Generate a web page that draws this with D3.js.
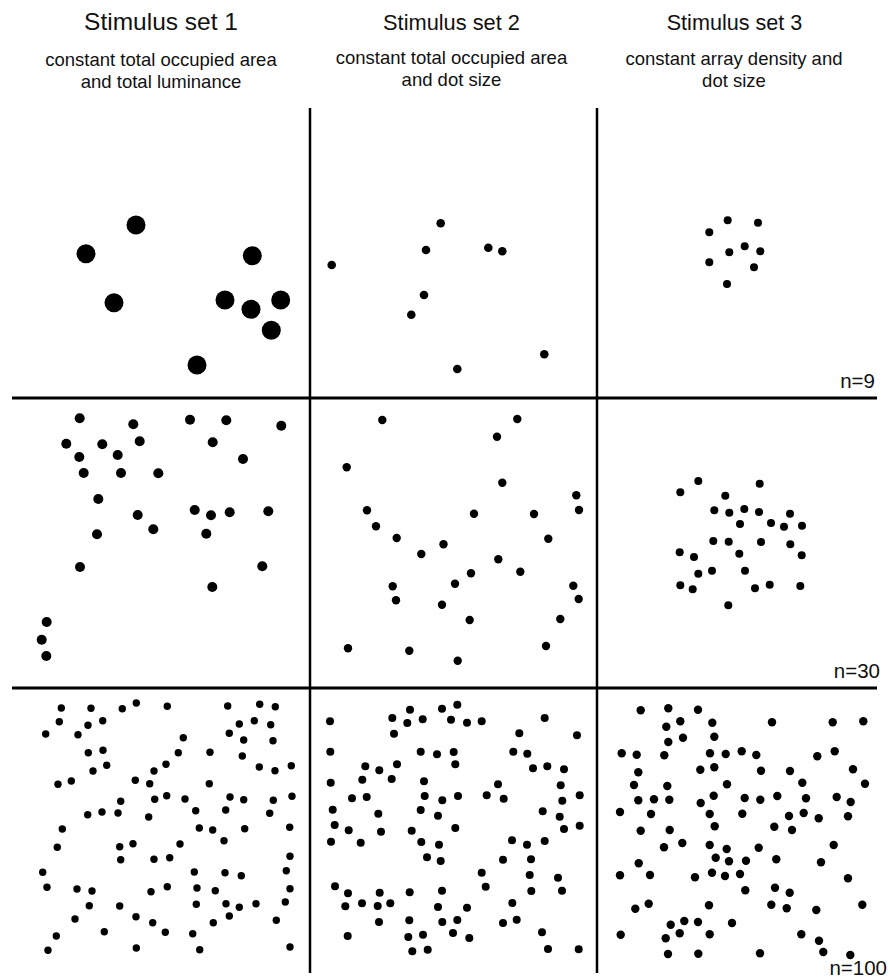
<!DOCTYPE html>
<html>
<head>
<meta charset="utf-8">
<script src="https://cdn.jsdelivr.net/npm/d3@7"></script>
<style>
  html, body { margin: 0; padding: 0; background: #fff; }
  svg { display: block; }
  text { font-family: "Liberation Sans", Arial, Helvetica, sans-serif; fill: #111; }
</style>
</head>
<body>
<svg id="chart" width="890" height="980"></svg>
<script>
// ---------- DATA ----------
const setTitles = ["Stimulus set 1", "Stimulus set 2", "Stimulus set 3"];
const setSubtitles = [
  ["constant total occupied area", "and total luminance"],
  ["constant total occupied area", "and dot size"],
  ["constant array density and", "dot size"]
];
const numerosityLabels = ["n=9", "n=30", "n=100"];

// dot positions (cell-local units, x right, y down)
const set1_n9 = [[136,117],[86,145.7],[252.3,147.7],[114,194.7],[225,192],[251,201.3],[280.7,192],[271.3,222.3],[197,257]];
const set2_n9 = [[21.7,157],[130.7,115.3],[116,142],[114,187],[101.3,206.7],[178.3,139.7],[192.3,143.3],[234.3,246.3],[147.3,261]];
const set3_n9 = [[130.7,112.3],[161,114.7],[112.3,124.3],[147.7,138.3],[132.3,144.3],[163.3,143.3],[112.3,154.3],[157,159.3],[130,176]];

const set1_n30 = [[79.7,20.3],[133.3,26.3],[190,21.7],[226.3,22.3],[281.3,27.7],[66.3,45.7],[102.3,46.3],[139.7,43.3],[212.7,44.3],[79.3,59],
  [117.7,57],[243,61],[83.7,75],[121,75],[158.3,75.3],[98.3,101],[137.7,117],[194.7,112],[211,117.3],[229.7,114.3],
  [268.3,113.3],[97,136.3],[153.3,131.3],[206.3,135.7],[80,169],[262.3,168.3],[212.3,189],[46.7,224],[41.7,241.7],[46.3,258]];
const set2_n30 = [[72.3,22],[36.7,69.3],[57,112.3],[66,128.3],[86.7,140],[111.3,156],[133.5,146.3],[82.7,188.3],[86,202.3],[132,206.7],
  [38,250.3],[99.3,252.7],[207.3,21],[187,38.7],[192.3,84.7],[266.3,97.3],[269,112],[164,115.7],[224,116],[238.3,140.7],
  [188.3,161.3],[161,175.3],[210.3,173.7],[145,185.7],[263.3,187.7],[268.7,201],[159.7,222],[250.3,221],[236,248],[147.7,262.7]];
const set3_n30 = [[101.3,83],[83.3,94.3],[162.7,85.7],[128.3,97.7],[117.3,112.3],[132.3,114.7],[147.3,111],[162,114],[193,115.7],[143,126],
  [174,125],[187,128.7],[205,127.7],[116.3,143],[131.7,143.7],[164,144],[193.3,146.3],[82.7,154.3],[97,159],[142.3,155.7],
  [204.7,157.3],[101.3,175.7],[115,172.7],[148,172.7],[83.3,187.3],[95.7,191.3],[158,190.3],[172.7,186.7],[203.3,188],[131.3,207.3]];

const set1_n100 = [[61.3,20],[91,20.3],[122.3,20.7],[136.3,15],[167.3,18.3],[227.7,18],[259.7,16.3],[275.3,18.7],[59.3,33.7],[88,37.3],
  [102.7,32.7],[239.3,36],[254.3,32.7],[270.7,36.7],[45.7,46],[78,46.7],[183.3,49.7],[229.3,45.3],[243.7,52],[273,52.7],
  [88.3,64.7],[103,62.3],[178.3,64.7],[210,64.3],[242.3,68],[93,83],[106.7,77.3],[154,83],[166,76.3],[259.3,79],
  [275,82.7],[291.3,77.7],[58,96.3],[71.3,93],[135.3,92.3],[149.7,95.7],[209.3,95.7],[120.7,113.3],[154.7,111.3],[166.7,107.7],
  [185,111],[230,109],[243.7,111.7],[273.3,112.3],[292,108.3],[87.7,126.7],[102,124],[118,125],[148.7,129],[195.7,122.7],
  [225.7,122],[269.7,125.3],[62.3,141],[199.3,140],[212.7,142],[244.7,140.7],[289.7,139.3],[57.3,159.3],[119.7,158.7],[133,155.7],
  [180,156],[224,152.7],[120.7,171.7],[154,171.3],[169.7,169.7],[290,168.3],[42.7,184.3],[194.3,184],[225,184.7],[241.3,187.7],
  [286.3,182.7],[47,199.3],[77,201],[92,203],[151,203.7],[167.3,198.7],[197,200],[215.3,202.7],[290,200.7],[89.3,217.7],
  [119.7,218],[196.3,216.3],[226,215.7],[239.3,219.3],[256,215.7],[285.3,214],[75,231],[136,228.7],[152.7,234.7],[213.3,234.7],
  [229.3,228],[276.3,232.3],[56.3,248],[104.3,243.7],[165.3,244.3],[192.7,245.7],[48,262.3],[136.3,260],[199.7,261.7],[290,259]];
const set2_n100 = [[20,33.3],[82.3,30],[100,21.7],[97.3,35],[112.7,31.3],[132,20.7],[147.3,16.7],[141,31.7],[157,34.7],[171.7,33.3],
  [234.7,30],[84,45.7],[209.3,45.3],[267,47.3],[20.3,63.7],[110.7,63.7],[127,66.3],[143.7,64],[203.3,63.7],[217.3,65.7],
  [55.3,78.3],[69.3,82.3],[87,76.3],[145.3,76.3],[223,80.3],[237.3,78.3],[254,81.3],[20.7,94.7],[52.3,91.7],[81.7,91],
  [114,93.3],[188,96.3],[250.7,97.3],[42,110.3],[56.7,109],[114.7,108],[132.3,112.3],[148,108],[176.7,107.3],[193.7,110.7],
  [252.3,112.7],[269.7,107.3],[22.7,121.7],[68.3,125.7],[110.7,122],[128,127.7],[232.7,123.3],[249.7,128.7],[24.7,137],[38.7,142.3],
  [71,143.7],[101.7,142.7],[145.3,140],[254,141],[269.7,137.7],[21,153.7],[50.7,154.7],[111.3,154],[129,156.7],[202,152.3],
  [217,156.7],[234.7,153],[117,169.3],[130.7,173],[193,171.7],[221,171.3],[171.7,184.7],[219.7,187],[248,189.7],[25,198.3],
  [38,205.3],[69.7,204.7],[99.7,204.3],[132,202.7],[175.7,198.7],[221.3,203],[252,202.7],[35.3,218.3],[52,215.3],[67.7,218],
  [80.3,215.3],[128,219],[157,219.7],[202.3,215],[69,234],[99.3,232.3],[132.3,234],[147.3,232],[193,235],[206.7,231.7],
  [37.7,248],[98.3,249],[113,246.7],[143,245],[159.3,250],[232,244.3],[102.3,263.3],[117.7,261.7],[238,261],[268.7,261.3]];
const set3_n100 = [[43.7,22.3],[71.3,20.3],[101,21.7],[69.3,38.7],[83.3,33.3],[115.3,34.7],[175,34.3],[235.7,34.3],[266.3,33.3],[71.3,54],
  [86,49.7],[117.3,48.7],[24.7,65.3],[39.7,66.7],[67.3,67.3],[113,65.3],[128.7,66],[144.7,63.3],[159.3,67],[220.3,68.3],
  [237.7,63.3],[41.3,84.3],[103.3,81.7],[117.3,79.3],[164,82.7],[193,83],[256,81.3],[37,97],[70.3,98],[130,96.3],
  [205.3,94.7],[268,95.7],[41.3,112.3],[57,111.3],[72.3,111.7],[103.7,115],[116.7,107.7],[147.7,110],[163.3,111.7],[180.3,108],
  [209,110.3],[239.7,109],[253.7,114],[23,124],[54,126],[112.7,126],[145.3,125.7],[192,128],[206.7,125],[221.7,130.3],
  [251,128.3],[43.7,142.7],[72.7,142],[117.7,138.3],[177.3,138.7],[195,142],[67,159.3],[85.3,155],[112.7,157],[129.7,161],
  [161.7,159.7],[236.7,157],[41.7,175.3],[118.7,169.7],[132,173.3],[149,172.7],[179.3,171.3],[224,174.3],[23,187.3],[53,187],
  [98,189.3],[115,184.7],[128,188],[143,186],[251,190.3],[148.3,202.3],[178,199.7],[192.7,204.7],[38.3,220.7],[51.7,215.7],
  [112,217.3],[174.3,216.7],[189.7,220.3],[219.3,222],[265.3,216.7],[73.7,236.7],[87.3,233],[101,234],[135,235],[23.7,246.7],
  [68.7,250.3],[82.7,245.3],[112.7,246.3],[204.3,246.3],[222,252.7],[71,266],[101.3,265.7],[163,265.3],[226.3,264],[253.3,267]];

const cells = [
  [set1_n9, set2_n9, set3_n9],
  [set1_n30, set2_n30, set3_n30],
  [set1_n100, set2_n100, set3_n100]
];

// ---------- LAYOUT / STYLE ----------
const colEdges = [0, 310, 597, 877];
const rowEdges = [108, 398, 688, 980];
const dotRadius = [
  [9.5, 4.3, 4.0],
  [5.0, 4.2, 4.0],
  [3.7, 4.0, 4.2]
];
const titleStyle = [
  {x:161, size:24.5, y:30},
  {x:451.5, size:21.8, y:29.5},
  {x:734.5, size:21.6, y:30}
];
const subStyle = [
  {x:161, y:[66, 88]},
  {x:451.5, y:[64, 86]},
  {x:734, y:[65, 87]}
];
const labelStyle = [
  {x:875, y:388},
  {x:880, y:678},
  {x:887, y:975}
];

const svg = d3.select("#chart");

// headers
setTitles.forEach((t, i) => {
  svg.append("text")
    .attr("x", titleStyle[i].x).attr("y", titleStyle[i].y)
    .attr("text-anchor", "middle")
    .style("font-size", titleStyle[i].size + "px")
    .text(t);
  setSubtitles[i].forEach((line, j) => {
    svg.append("text")
      .attr("x", subStyle[i].x).attr("y", subStyle[i].y[j])
      .attr("text-anchor", "middle")
      .style("font-size", "18.5px")
      .text(line);
  });
});

// grid lines
const g = svg.append("g").attr("stroke", "#000");
[rowEdges[1], rowEdges[2]].forEach(y => {
  g.append("line").attr("x1", 12).attr("x2", 877).attr("y1", y).attr("y2", y)
    .attr("stroke-width", 3);
});
[colEdges[1], colEdges[2]].forEach(x => {
  g.append("line").attr("x1", x).attr("x2", x).attr("y1", 108).attr("y2", 973)
    .attr("stroke-width", 2.5);
});

// dots
cells.forEach((row, r) => {
  const y0 = rowEdges[r], y1 = rowEdges[r + 1];
  const yScale = d3.scaleLinear().domain([0, y1 - y0]).range([y0, y1]);
  row.forEach((pts, c) => {
    const x0 = colEdges[c], x1 = colEdges[c + 1];
    const xScale = d3.scaleLinear().domain([0, x1 - x0]).range([x0, x1]);
    svg.append("g")
      .selectAll("circle")
      .data(pts)
      .join("circle")
      .attr("cx", d => xScale(d[0]))
      .attr("cy", d => yScale(d[1]))
      .attr("r", dotRadius[r][c])
      .attr("fill", "#000");
  });
});

// numerosity labels
numerosityLabels.forEach((lab, i) => {
  svg.append("text")
    .attr("x", labelStyle[i].x).attr("y", labelStyle[i].y)
    .attr("text-anchor", "end")
    .style("font-size", "20.5px")
    .text(lab);
});
</script>
</body>
</html>
